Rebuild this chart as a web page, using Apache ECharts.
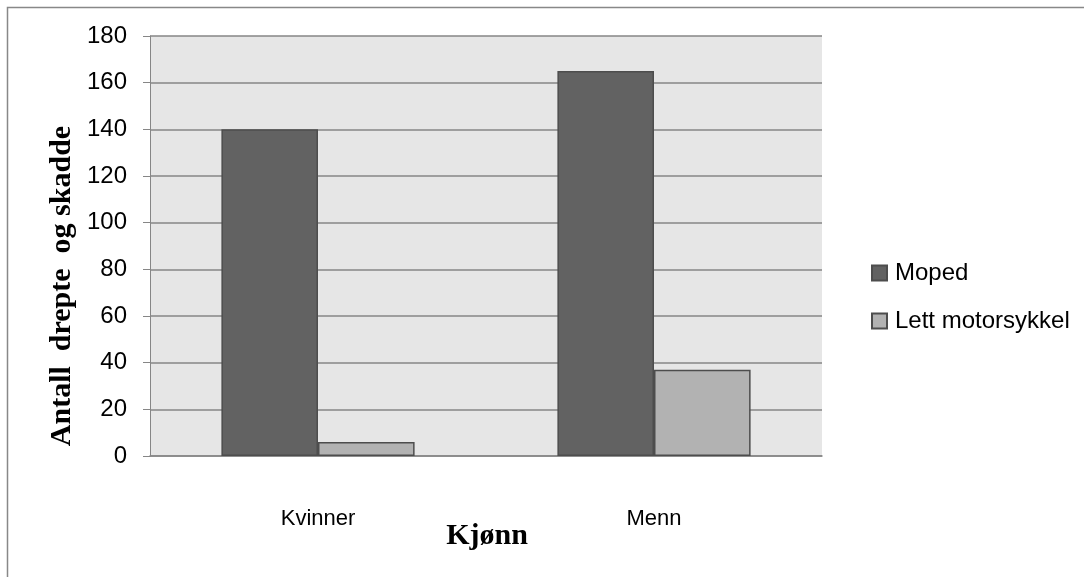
<!DOCTYPE html>
<html><head><meta charset="utf-8">
<script src="https://cdn.jsdelivr.net/npm/echarts@6/dist/echarts.min.js"></script>
<style>html,body{margin:0;padding:0;background:#fff}#c{width:1084px;height:577px}</style>
</head><body><div id="c"></div>
<script>
const categories = ['Kvinner', 'Menn'];
const seriesNames = ['Moped', 'Lett motorsykkel'];
const moped = [140, 165];
const lettMotorsykkel = [6, 37];
const yTicks = { min: 0, max: 180, interval: 20 };
const yTitle = 'Antall  drepte  og skadde';
const xTitle = 'Kjønn';

const chart = echarts.init(document.getElementById('c'), null, { renderer: 'canvas' });
const labelFont = '"Liberation Sans", Arial, sans-serif';
const serif = '"Liberation Serif", "Times New Roman", serif';
chart.setOption({
  animation: false,
  backgroundColor: '#fff',
  graphic: [
    { type: 'rect', shape: { x: 7.5, y: 7.5, width: 1100, height: 600 }, style: { fill: 'none', stroke: '#888', lineWidth: 1.5 }, z: -10 },
    { type: 'text', x: 62, y: 286, rotation: Math.PI / 2, style: { text: yTitle, font: 'bold 30px ' + serif, fill: '#000', align: 'center', verticalAlign: 'middle' } },
    { type: 'text', x: 487, y: 536, style: { text: xTitle, font: 'bold 30px ' + serif, fill: '#000', align: 'center', verticalAlign: 'middle' } }
  ],
  grid: { left: 150, right: 262, top: 36, bottom: 121, show: true, backgroundColor: '#e6e6e6', borderWidth: 0 },
  legend: {
    orient: 'vertical', left: 866, top: 256, itemWidth: 15, itemHeight: 15, itemGap: 24, icon: 'rect',
    textStyle: { fontFamily: labelFont, fontSize: 24, lineHeight: 24, color: '#000', padding: [0, 0, 0, 3] },
    data: seriesNames
  },
  xAxis: {
    type: 'category', data: categories,
    axisLine: { show: true, lineStyle: { color: '#868686', width: 1.5 } },
    axisTick: { show: false },
    axisLabel: { fontFamily: labelFont, fontSize: 22, color: '#000', margin: 52 }
  },
  yAxis: {
    type: 'value', min: yTicks.min, max: yTicks.max, interval: yTicks.interval,
    axisLine: { show: true, lineStyle: { color: '#868686', width: 1 } },
    axisTick: { show: true, length: 7, lineStyle: { color: '#868686' } },
    splitLine: { lineStyle: { color: '#868686', width: 1.5 } },
    axisLabel: { fontFamily: labelFont, fontSize: 24, color: '#000', margin: 23 }
  },
  series: [
    { name: seriesNames[0], type: 'bar', data: moped, barGap: '0%', barCategoryGap: '42.5%',
      itemStyle: { color: '#626262', borderColor: '#4d4d4d', borderWidth: 1.5 } },
    { name: seriesNames[1], type: 'bar', data: lettMotorsykkel, barGap: '0%', barCategoryGap: '42.5%',
      itemStyle: { color: '#b2b2b2', borderColor: '#4d4d4d', borderWidth: 1.5 } }
  ]
});
</script></body></html>
